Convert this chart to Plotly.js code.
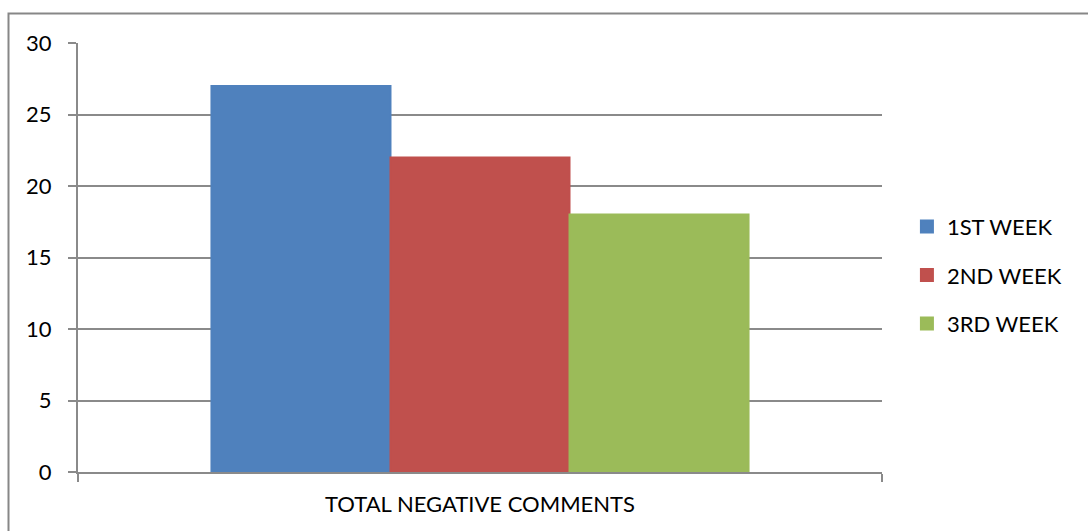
<!DOCTYPE html>
<html>
<head>
<meta charset="utf-8">
<script src="https://cdn.plot.ly/plotly-3.0.1.min.js"></script>
<style>
  html, body { margin: 0; padding: 0; background: #ffffff; }
  #chart { width: 1088px; height: 531px; }
</style>
</head>
<body>
<div id="chart"></div>
<script>
// Weekly totals of negative comments
const categories = ["TOTAL NEGATIVE COMMENTS"];
const seriesNames = ["1ST WEEK", "2ND WEEK", "3RD WEEK"];
const week1 = [27];
const week2 = [22];
const week3 = [18];
const yTicks = [0, 5, 10, 15, 20, 25, 30];

const colors = ["#4F81BD", "#C0504D", "#9BBB59"];
const seriesValues = [week1, week2, week3];

// outline in the fill colour so the legend swatches read as larger squares
const traces = seriesNames.map((name, i) => ({
  type: "bar",
  name: name,
  x: categories,
  y: seriesValues[i],
  marker: { color: colors[i], line: { width: 2, color: colors[i] } },
  legendgroup: "g" + i,
  hoverinfo: "name+y"
}));

const gridColor = "#8a8a8a";
const fontFamily = "Lato, 'Open Sans', sans-serif";
const fontSize = 22;

const layout = {
  width: 1088,
  height: 531,
  margin: { l: 78, r: 206, t: 43, b: 59, pad: 0 },
  paper_bgcolor: "#ffffff",
  plot_bgcolor: "#ffffff",
  font: { family: fontFamily, size: fontSize, color: "#000000" },
  barmode: "group",
  bargap: 0.332,
  bargroupgap: 0,
  showlegend: true,
  legend: {
    x: 1.031, xanchor: "left",
    y: 0.459, yanchor: "middle",
    traceorder: "grouped",
    tracegroupgap: 17,
    font: { family: fontFamily, size: fontSize, color: "#000000" },
    bgcolor: "rgba(0,0,0,0)"
  },
  xaxis: {
    type: "category",
    showgrid: false,
    showline: true,
    linecolor: gridColor,
    linewidth: 2,
    ticks: "outside",
    tickson: "boundaries",
    ticklen: 8,
    tickwidth: 2,
    tickcolor: gridColor,
    ticklabelstandoff: 12,
    tickfont: { family: fontFamily, size: fontSize, color: "#000000" },
    fixedrange: true
  },
  yaxis: {
    range: [0, 30],
    tickvals: yTicks,
    ticktext: yTicks.map(String),
    showgrid: true,
    gridcolor: gridColor,
    gridwidth: 2,
    zeroline: false,
    showline: true,
    linecolor: gridColor,
    linewidth: 2,
    ticks: "outside",
    ticklen: 8,
    tickwidth: 2,
    tickcolor: gridColor,
    ticklabelstandoff: 12,
    tickfont: { family: fontFamily, size: fontSize, color: "#000000" },
    fixedrange: true
  },
  shapes: [
    {
      // outer chart frame
      type: "rect",
      xref: "paper", yref: "paper",
      x0: (8.5 - 78) / 804, x1: 1.5,
      y0: -0.3, y1: (472 - 13.5) / 429,
      line: { color: "#878787", width: 2 },
      fillcolor: "rgba(0,0,0,0)",
      layer: "below"
    }
  ]
};

Plotly.newPlot("chart", traces, layout, { displayModeBar: false, staticPlot: true });
</script>
</body>
</html>
